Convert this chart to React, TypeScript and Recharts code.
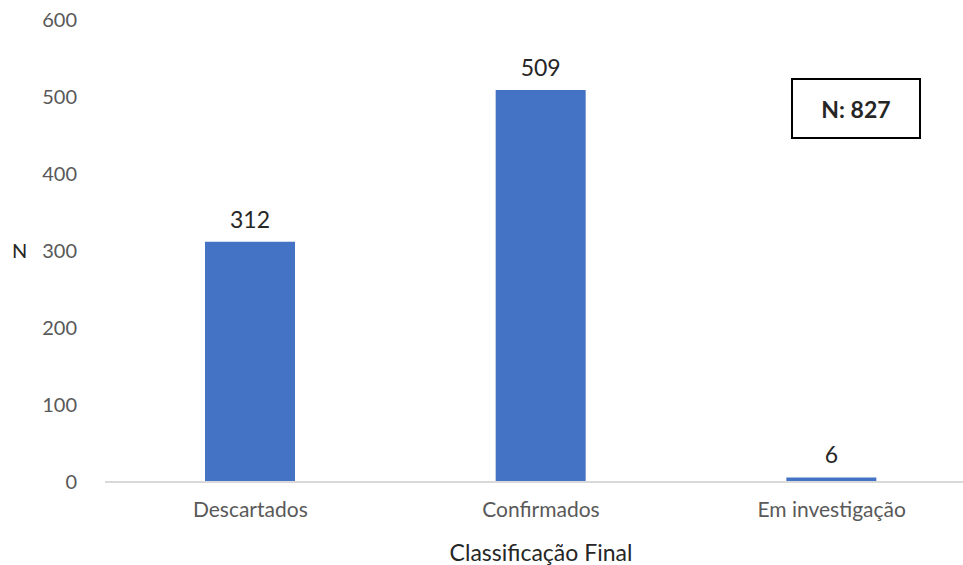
import { BarChart, Bar, XAxis, YAxis, LabelList } from "recharts";

const categorias = ["Descartados", "Confirmados", "Em investigação"];
const casos = [312, 509, 6];
const yTicks = [0, 100, 200, 300, 400, 500, 600];
const totalCasos = 827;

const data = categorias.map((nome, i) => ({ nome, casos: casos[i] }));

const fonte = "Lato, 'Open Sans', sans-serif";

const App = () => {
  return (
    <div style={{ position: "absolute", left: 0, top: 0, width: 963, height: 565, background: "#fff", fontFamily: fonte }}>
      <BarChart
        width={963}
        height={565}
        data={data}
        margin={{ top: 20, right: -14, left: 0, bottom: 0 }}
      >
        <XAxis
          dataKey="nome"
          tickLine={false}
          axisLine={{ stroke: "#d9d9d9", strokeWidth: 2 }}
          tick={{ fill: "#595959", fontSize: 21, fontFamily: fonte }}
          tickMargin={14}
          height={83}
          label={{ value: "Classificação Final", position: "insideBottom", offset: 4, fill: "#262626", fontSize: 23, fontFamily: fonte }}
        />
        <YAxis
          width={105}
          domain={[0, 600]}
          ticks={yTicks}
          axisLine={false}
          tickLine={false}
          tickMargin={22}
          tick={{ fill: "#595959", fontSize: 20, fontFamily: fonte }}
          label={{ value: "N", position: "insideLeft", offset: 12, fill: "#262626", fontSize: 20, fontFamily: fonte }}
        />
        <Bar dataKey="casos" fill="#4472C4" barSize={90} isAnimationActive={false}>
          <LabelList dataKey="casos" position="top" offset={14} fill="#262626" fontSize={23} fontFamily={fonte} />
        </Bar>
      </BarChart>
      <div
        style={{
          position: "absolute",
          left: 791,
          top: 78,
          width: 126,
          height: 57,
          border: "2px solid #000",
          display: "flex",
          alignItems: "center",
          justifyContent: "center",
          fontWeight: 700,
          fontSize: 23,
          color: "#262626",
          boxSizing: "content-box",
        }}
      >
        N: {totalCasos}
      </div>
    </div>
  );
};

export default App;
